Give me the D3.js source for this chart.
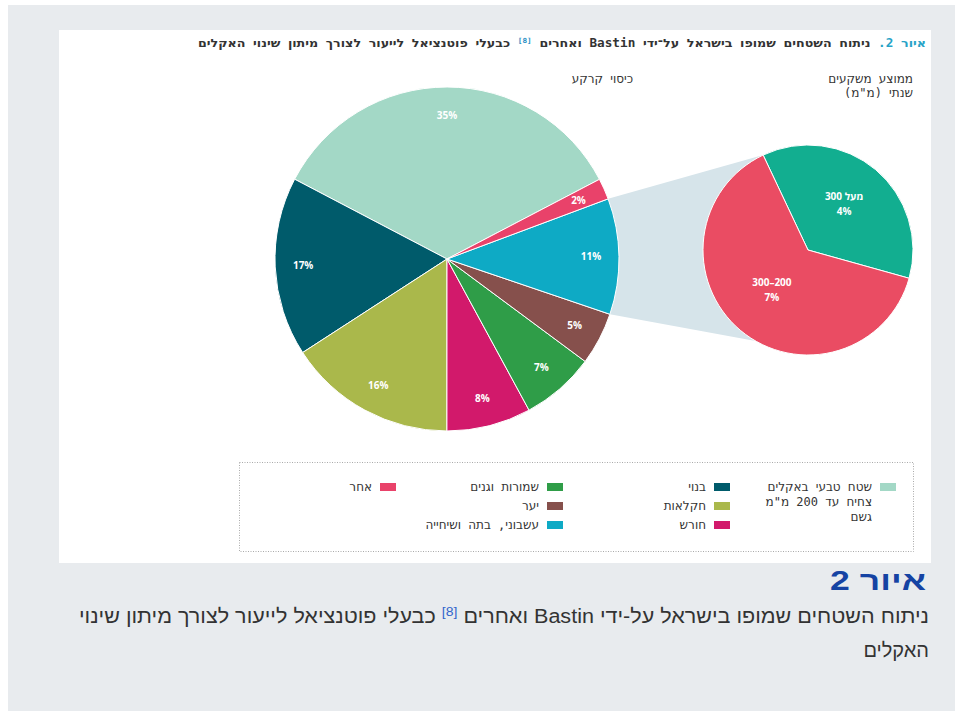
<!DOCTYPE html>
<html lang="he">
<head>
<meta charset="utf-8">
<script src="https://cdn.jsdelivr.net/npm/d3@7/dist/d3.min.js"></script>
<style>
    body { margin: 0; background: #fff; }
    svg { display: block; }
    .rtl { direction: rtl; unicode-bidi: embed; }
    .mono { font-family: "DejaVu Sans Mono", "DejaVu Sans", monospace; fill: #333; }
    .pct { font-family: "Open Sans", sans-serif; font-weight: 700; fill: #fff; }
</style>
</head>
<body>
<svg id="chart" width="955" height="711"></svg>
<script>
// land cover categories, in legend order
const categories = [
    ['שטח טבעי באקלים', 'צחיח עד 200 מ"מ', 'גשם'],
    ['בנוי'],
    ['חקלאות'],
    ['חורש'],
    ['שמורות וגנים'],
    ['יער'],
    ['עשבוני, בתה ושיחייה'],
    ['אחר']
];
const shares = [35, 17, 16, 8, 7, 5, 11, 2];
const colors = ['#a3d8c6', '#005b6b', '#aab84b', '#d2196b', '#2f9d48', '#86504c', '#0eaac5', '#e9426a'];

// breakdown of the herbaceous slice by annual rainfall
const rainBands = [['מעל 300', '4%'], ['200–300', '7%']];
const rainShares = [4, 7];
const rainColors = ['#12ae90', '#ea4c63'];

const titleLead = 'איור 2.';
const titleText = ' ניתוח השטחים שמופו בישראל על־ידי Bastin ואחרים ';
const titleRef = '[8]';
const titleTail = ' כבעלי פוטנציאל לייעור לצורך מיתון שינוי האקלים';
const headCover = 'כיסוי קרקע';
const headRain = ['ממוצע משקעים', 'שנתי (מ"מ)'];

const captionHead = 'איור 2';
const captionLine1a = 'ניתוח השטחים שמופו בישראל על-ידי Bastin ואחרים ';
const captionRef = '[8]';
const captionLine1b = ' כבעלי פוטנציאל לייעור לצורך מיתון שינוי';
const captionLine2 = 'האקלים';

const deg = Math.PI / 180;
const svg = d3.select('#chart');

// panels
svg.append('rect').attr('x', 8).attr('y', 5).attr('width', 947).attr('height', 706).attr('fill', '#e8ebee');
svg.append('rect').attr('x', 59).attr('y', 30).attr('width', 872).attr('height', 533).attr('fill', '#fff');

// title
const title = svg.append('text').attr('class', 'rtl mono')
    .attr('x', 926).attr('y', 47)
    .attr('textLength', 728).attr('lengthAdjust', 'spacingAndGlyphs')
    .style('font-size', '11.5px').style('font-weight', 700);
title.append('tspan').style('fill', '#27a3c7').text(titleLead);
title.append('tspan').text(titleText);
title.append('tspan').style('fill', '#2b8fc4').style('font-size', '7px').attr('dy', -4).text(titleRef);
title.append('tspan').attr('dy', 4).text(titleTail);

svg.append('text').attr('class', 'rtl mono').attr('x', 633).attr('y', 83)
    .style('font-size', '12px').text(headCover);
svg.selectAll('.head-rain').data(headRain).enter().append('text')
    .attr('class', 'rtl mono head-rain').attr('x', 913).attr('y', (d, i) => 83 + i * 14)
    .style('font-size', '12px').text(d => d);

// main pie
const main = {cx: 447, cy: 259, r: 172};
const rain = {cx: 808, cy: 250, r: 105};
const mainStart = 62.4 * deg;

const pie = d3.pie().sort(null)
    .startAngle(mainStart).endAngle(mainStart - 2 * Math.PI);
const arcs = pie(shares);
const arc = d3.arc().innerRadius(0).outerRadius(main.r);
const labelArc = d3.arc().innerRadius(144).outerRadius(144);

const rainStart = -25.3 * deg;
const rainPie = d3.pie().sort(null)
    .startAngle(rainStart).endAngle(rainStart + 2 * Math.PI);
const rainArcs = rainPie(rainShares);
const rainArc = d3.arc().innerRadius(0).outerRadius(rain.r);
const rainLabelArc = d3.arc().innerRadius(56).outerRadius(56);

const polar = (c, r, a) => [c.cx + r * Math.sin(a), c.cy - r * Math.cos(a)];

// connector from the herbaceous slice to the breakdown pie
const herb = arcs[6];
svg.append('polygon')
    .attr('points', [
        polar(main, main.r, herb.endAngle),
        polar(rain, rain.r, rainStart),
        polar(rain, rain.r, 210 * deg),
        polar(main, main.r, herb.startAngle)
    ].map(p => p.join(',')).join(' '))
    .attr('fill', '#d6e4ea');

const gMain = svg.append('g').attr('transform', `translate(${main.cx},${main.cy})`);
gMain.selectAll('path').data(arcs).enter().append('path')
    .attr('d', arc)
    .attr('fill', (d, i) => colors[i])
    .attr('stroke', '#fff').attr('stroke-width', 1);
gMain.selectAll('text').data(arcs).enter().append('text')
    .attr('class', 'pct')
    .attr('transform', d => `translate(${labelArc.centroid(d)})`)
    .attr('text-anchor', 'middle').attr('dy', '0.35em')
    .style('font-size', '10px')
    .text(d => d.data + '%');

const gRain = svg.append('g').attr('transform', `translate(${rain.cx},${rain.cy})`);
gRain.selectAll('path').data(rainArcs).enter().append('path')
    .attr('d', rainArc)
    .attr('fill', (d, i) => rainColors[i])
    .attr('stroke', '#fff').attr('stroke-width', 1);
const rainLabels = gRain.selectAll('text').data(rainArcs).enter().append('text')
    .attr('class', 'pct rtl')
    .attr('transform', d => `translate(${rainLabelArc.centroid(d)})`)
    .attr('text-anchor', 'middle')
    .style('font-size', '10px');
rainLabels.selectAll('tspan').data((d, i) => rainBands[i]).enter().append('tspan')
    .attr('x', 0).attr('y', (d, i) => i * 15 - 7)
    .text(d => d);

// legend
svg.append('rect').attr('x', 239.5).attr('y', 462.5).attr('width', 674).attr('height', 89)
    .attr('fill', 'none').attr('stroke', '#aaa').attr('stroke-width', 1).attr('stroke-dasharray', '1,1.5');

const legendCols = [880, 714, 547, 380];
const legendSlots = [[0, 0], [1, 0], [1, 1], [1, 2], [2, 0], [2, 1], [2, 2], [3, 0]];
const legend = svg.append('g').selectAll('g').data(categories).enter().append('g')
    .attr('transform', (d, i) => `translate(${legendCols[legendSlots[i][0]]},${483 + legendSlots[i][1] * 19})`);
legend.append('rect').attr('width', 16).attr('height', 8).attr('fill', (d, i) => colors[i]);
legend.append('text').attr('class', 'rtl mono')
    .style('font-size', '12px')
    .selectAll('tspan').data(d => d).enter().append('tspan')
    .attr('x', -8).attr('y', (d, i) => 8 + i * 15)
    .text(d => d);

// caption
svg.append('text').attr('class', 'rtl').attr('x', 926).attr('y', 590)
    .attr('textLength', 96).attr('lengthAdjust', 'spacingAndGlyphs')
    .style('font-family', '"Liberation Sans", Arial, sans-serif').style('font-weight', 700)
    .style('font-size', '27px').style('fill', '#1543a3').text(captionHead);
const cap = svg.append('text').attr('class', 'rtl').attr('x', 929).attr('y', 623)
    .attr('textLength', 850).attr('lengthAdjust', 'spacingAndGlyphs')
    .style('font-family', '"Liberation Sans", sans-serif')
    .style('font-size', '20px').style('fill', '#333');
cap.append('tspan').text(captionLine1a);
cap.append('tspan').style('fill', '#3366cc').style('font-size', '13px').attr('dy', -7).text(captionRef);
cap.append('tspan').attr('dy', 7).text(captionLine1b);
svg.append('text').attr('class', 'rtl').attr('x', 929).attr('y', 657)
    .style('font-family', '"Liberation Sans", sans-serif')
    .style('font-size', '20px').style('fill', '#333').text(captionLine2);
</script>
</body>
</html>
